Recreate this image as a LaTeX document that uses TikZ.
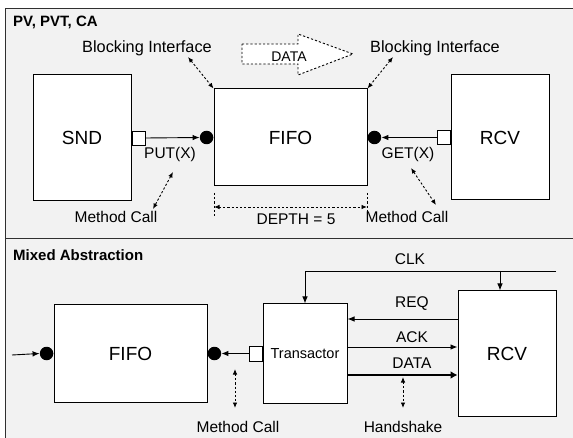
\documentclass[tikz,border=0pt]{standalone}
\usepackage{fontspec}
\setmainfont{Liberation Sans}
\usetikzlibrary{arrows.meta,calc}
\definecolor{panelgray}{HTML}{F2F2F2}
\definecolor{borderc}{HTML}{303030}
\tikzset{
  lbl/.style={font=\fontsize{15.5}{18}\selectfont, inner sep=0pt},
  bigl/.style={font=\fontsize{19}{22}\selectfont},
  ttl/.style={font=\fontsize{15}{18}\selectfont\bfseries, inner sep=0pt, anchor=west},
  blk/.style={draw=black, fill=white, line width=1pt, inner sep=0pt},
  port/.style={draw=black, fill=white, line width=0.9pt, minimum width=13pt, minimum height=14pt, inner sep=0pt},
  dot/.style={circle, fill=black, minimum size=13.5pt, inner sep=0pt},
  arr/.style={line width=0.9pt, -{Latex[length=7pt,width=5.5pt]}},
  dasharr/.style={line width=0.9pt, dash pattern=on 2.2pt off 2pt, {Latex[length=5.5pt,width=4.5pt]}-{Latex[length=5.5pt,width=4.5pt]}},
  dashln/.style={line width=0.9pt, dash pattern=on 2.2pt off 2pt},
}
\begin{document}
\begin{tikzpicture}[x=1pt,y=-1pt]
\clip (0,0) rectangle (573,438);
\fill[white] (0,0) rectangle (573,438);
% panels
\draw[fill=panelgray, draw=borderc, line width=1pt] (5,9) rectangle (590,239);
\draw[fill=panelgray, draw=borderc, line width=1pt] (5,239) rectangle (590,460);
\node[ttl] (t1) at (13,22) {PV, PVT, CA};
\node[ttl] (t2) at (13,255) {Mixed Abstraction};

% ---------- top panel ----------
\node[blk, bigl, minimum width=98pt, minimum height=126pt] (snd) at (82,138) {SND};
\node[blk, bigl, minimum width=153pt, minimum height=97pt] (fifo) at (290.5,137.5) {FIFO};
\node[blk, bigl, minimum width=98pt, minimum height=125pt] (rcv) at (500,137.5) {RCV};

\node[port, anchor=west] (sndport) at (snd.east) {};
\node[dot, anchor=east] (fifol) at (fifo.west) {};
\draw[arr] (sndport.east) -- (fifol.west);
\node[port, anchor=east] (rcvport) at (rcv.west) {};
\node[dot, anchor=west] (fifor) at (fifo.east) {};
\draw[arr] (rcvport.west) -- (fifor.east);

\node[lbl] (put) at (170,154) {PUT(X)};
\node[lbl] (get) at (408,154) {GET(X)};
\node[lbl] (mc1) at (116,217) {Method Call};
\node[lbl] (mc2) at (407,217) {Method Call};
\coordinate (mc1a) at (173,172); \coordinate (mc1b) at (153,209);
\draw[dasharr] (mc1a) -- (mc1b);
\coordinate (mc2a) at (411,168); \coordinate (mc2b) at (436,205);
\draw[dasharr] (mc2a) -- (mc2b);

\node[lbl, font=\fontsize{16.3}{19}\selectfont] (bi1) at (147,48) {Blocking Interface};
\node[lbl, font=\fontsize{16.3}{19}\selectfont] (bi2) at (435,48) {Blocking Interface};
\coordinate (bi1a) at (188,57);
\coordinate (bi2a) at (393,57);
\draw[dasharr] (bi1a) -- (fifo.north west);
\draw[dasharr] (bi2a) -- (fifo.north east);

% DATA hollow arrow
\draw[dashln, fill=white] (242,44) -- (298,44) -- (298,34) -- (353,54) -- (298,75) -- (298,64) -- (242,64) -- cycle;
\node[font=\fontsize{14}{16}\selectfont, inner sep=0pt] (datatop) at (289,57) {DATA};

% DEPTH
\coordinate (dl1) at (214,193); \coordinate (dl2) at (214,218);
\coordinate (dr1) at (367,193); \coordinate (dr2) at (367,218);
\draw[dashln] (dl1) -- (dl2);
\draw[dashln] (dr1) -- (dr2);
\coordinate (dal) at (214,207); \coordinate (dar) at (367,207);
\draw[dasharr] (dal) -- (dar);
\node[lbl] (depth) at (296,219) {DEPTH = 5};

% ---------- bottom panel ----------
\node[blk, bigl, minimum width=153pt, minimum height=97pt] (fifo2) at (130.5,353.5) {FIFO};
\node[dot, anchor=east] (c2l) at (fifo2.west) {};
\node[dot, anchor=west] (c2r) at (fifo2.east) {};
\coordinate (inL) at (12,355);
\draw[arr] (inL) -- (c2l.west);

\node[blk, font=\fontsize{14.5}{17}\selectfont, minimum width=84pt, minimum height=99pt] (trans) at (305,353.5) {Transactor};
\node[port, anchor=east, minimum height=15pt] (tport) at (trans.west) {};
\draw[arr] (tport.west) -- (c2r.east);

\node[blk, bigl, minimum width=98pt, minimum height=125pt] (rcv2) at (507,353.5) {RCV};

% CLK
\coordinate (clkR) at (556,271);
\coordinate (clkB) at (500,271);
\draw[arr] (clkR) -| (trans.north);
\draw[arr] (clkB) -- (clkB |- rcv2.north);
\node[lbl] (clk) at (410,259) {CLK};

% REQ / ACK / DATA
\coordinate (reqR) at ([yshift=34.5pt]rcv2.west);
\draw[arr] (reqR) -- (reqR -| trans.east);
\node[lbl] (req) at (412,304) {REQ};
\coordinate (ackL) at ([yshift=6.5pt]trans.east);
\draw[arr] (ackL) -- (ackL -| rcv2.west);
\node[lbl] (ack) at (412,337) {ACK};
\coordinate (datL) at ([yshift=-21.5pt]trans.east);
\draw[line width=2.6pt, -{Latex[length=7pt,width=8pt]}] (datL) -- (datL -| rcv2.west);
\node[lbl] (dat) at (412,363) {DATA};

% Method call / Handshake
\coordinate (mc3a) at (235,369); \coordinate (mc3b) at (235,408);
\draw[dasharr] (mc3a) -- (mc3b);
\node[lbl] (mc3) at (238,427) {Method Call};
\coordinate (hsa) at (403,377); \coordinate (hsb) at (403,408);
\draw[dasharr] (hsa) -- (hsb);
\node[lbl] (hs) at (403,427) {Handshake};
\end{tikzpicture}
\end{document}
